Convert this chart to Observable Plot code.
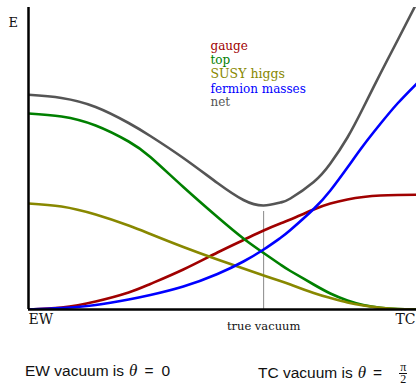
<!DOCTYPE html>
<html><head><meta charset="utf-8">
<script src="https://cdn.jsdelivr.net/npm/d3@7"></script>
<script src="https://cdn.jsdelivr.net/npm/@observablehq/plot@0.6"></script>
<style>
body{margin:0;background:#fff;width:416px;height:383px;overflow:hidden;position:relative}
#cap{position:absolute;top:362px;left:0;width:416px;font-family:"Liberation Sans",Arial,sans-serif;font-size:15.5px;color:#111;line-height:18px}
#cap span.c{position:absolute;top:0;white-space:nowrap}
.th{font-family:"Liberation Serif",serif;font-style:italic;font-size:17px;margin-left:5px}
.eq{margin:0 8px 0 7px}
.fr{display:inline-block;vertical-align:middle;text-align:center;font-family:"Liberation Serif",serif;font-size:12px;line-height:11px;margin-left:9px}
.fr .n{display:block;border-bottom:1px solid #111;padding:0 1px}
.fr .d{display:block}
</style>
</head><body>
<div id="chart"></div>
<div id="cap"><span class="c" style="left:25px">EW vacuum is<span class="th">θ</span><span class="eq">=</span>0</span><span class="c" style="left:258px">TC vacuum is<span class="th">θ</span><span class="eq">=</span><span class="fr"><span class="n">π</span><span class="d">2</span></span></span></div>
<script>
// theta as fraction of pi/2 (EW = 0, TC = 1); energies in arbitrary units
const theta   = [0, 0.085, 0.173, 0.258, 0.314, 0.399, 0.487, 0.554, 0.606, 0.649, 0.675, 0.735, 0.778, 0.822, 0.863, 0.907, 0.951, 1];
const gauge   = [0, 0.02, 0.08, 0.17, 0.255, 0.40, 0.57, 0.695, 0.79, 0.86, 0.90, 1.00, 1.06, 1.10, 1.125, 1.14, 1.145, 1.147];
const top_    = [1.96, 1.93, 1.84, 1.68, 1.525, 1.225, 0.925, 0.71, 0.565, 0.45, 0.385, 0.25, 0.16, 0.09, 0.045, 0.017, 0.004, 0];
const susy    = [1.06, 1.03, 0.95, 0.84, 0.755, 0.625, 0.50, 0.41, 0.34, 0.285, 0.25, 0.165, 0.115, 0.07, 0.04, 0.017, 0.005, 0];
const fermion = [0, 0.015, 0.045, 0.10, 0.145, 0.23, 0.355, 0.48, 0.60, 0.715, 0.795, 1.005, 1.19, 1.42, 1.64, 1.857, 2.06, 2.257];
const net     = [2.147, 2.115, 2.025, 1.865, 1.735, 1.515, 1.265, 1.095, 1.04, 1.07, 1.11, 1.275, 1.46, 1.72, 2.02, 2.36, 2.69, 3.06];
const seriesNames  = ["gauge", "top", "SUSY higgs", "fermion masses", "net"];
const seriesColors = ["#a00000", "#008000", "#888800", "#0000ff", "#555555"];
const seriesValues = [gauge, top_, susy, fermion, net];
const xTickPos    = [0, 0.606, 1];
const xTickLabels = ["EW", "true vacuum", "TC"];
const yLabel = "E";

const legendDy = [34, 47.5, 62, 77, 89.5];

const vacIdx = net.indexOf(d3.min(net));
const vac = {x: theta[vacIdx], y: net[vacIdx]};

const lines = seriesValues.map((vals, i) =>
  Plot.line(theta.map((t, j) => ({t, e: vals[j]})), {
    x: "t", y: "e", stroke: seriesColors[i], strokeWidth: 2.6, curve: "natural", clip: true
  }));

const legend = seriesNames.map((name, i) =>
  Plot.text([name], {frameAnchor: "top-left", dx: 182, dy: legendDy[i],
    text: d => d, fill: seriesColors[i], fontSize: i === 2 ? 12.5 : 12, textAnchor: "start",
    fontFamily: "DejaVu Serif, serif"}));

const plot = Plot.plot({
  width: 416, height: 345,
  marginLeft: 28, marginRight: 0, marginTop: 7, marginBottom: 36,
  x: {domain: [0, 1], axis: null},
  y: {domain: [0, 3.02], axis: null},
  style: {fontFamily: "DejaVu Serif, serif", background: "#fff"},
  marks: [
    Plot.ruleX([vac], {x: "x", y1: 0, y2: "y", stroke: "#888", strokeWidth: 1, insetBottom: -6}),
    ...lines,
    Plot.ruleY([0], {stroke: "#000", strokeWidth: 2.5}),
    Plot.ruleX([0], {stroke: "#000", strokeWidth: 2.5}),
    Plot.axisX([xTickPos[0]], {tickSize: 0, tickPadding: 5, tickFormat: () => xTickLabels[0], textAnchor: "start", fontSize: 14, fill: "#111", label: null}),
    Plot.axisX([xTickPos[1]], {tickSize: 0, tickPadding: 12, tickFormat: () => xTickLabels[1], fontSize: 11.5, fill: "#111", label: null}),
    Plot.axisX([xTickPos[2]], {tickSize: 0, tickPadding: 5, tickFormat: () => xTickLabels[2], textAnchor: "end", dx: -1, fontSize: 14, fill: "#111", label: null}),
    Plot.text([yLabel], {frameAnchor: "top-left", dx: -20, dy: 10, text: d => d, fontSize: 13, fill: "#111"}),
    ...legend
  ]
});
document.getElementById("chart").appendChild(plot);
</script>
</body></html>
